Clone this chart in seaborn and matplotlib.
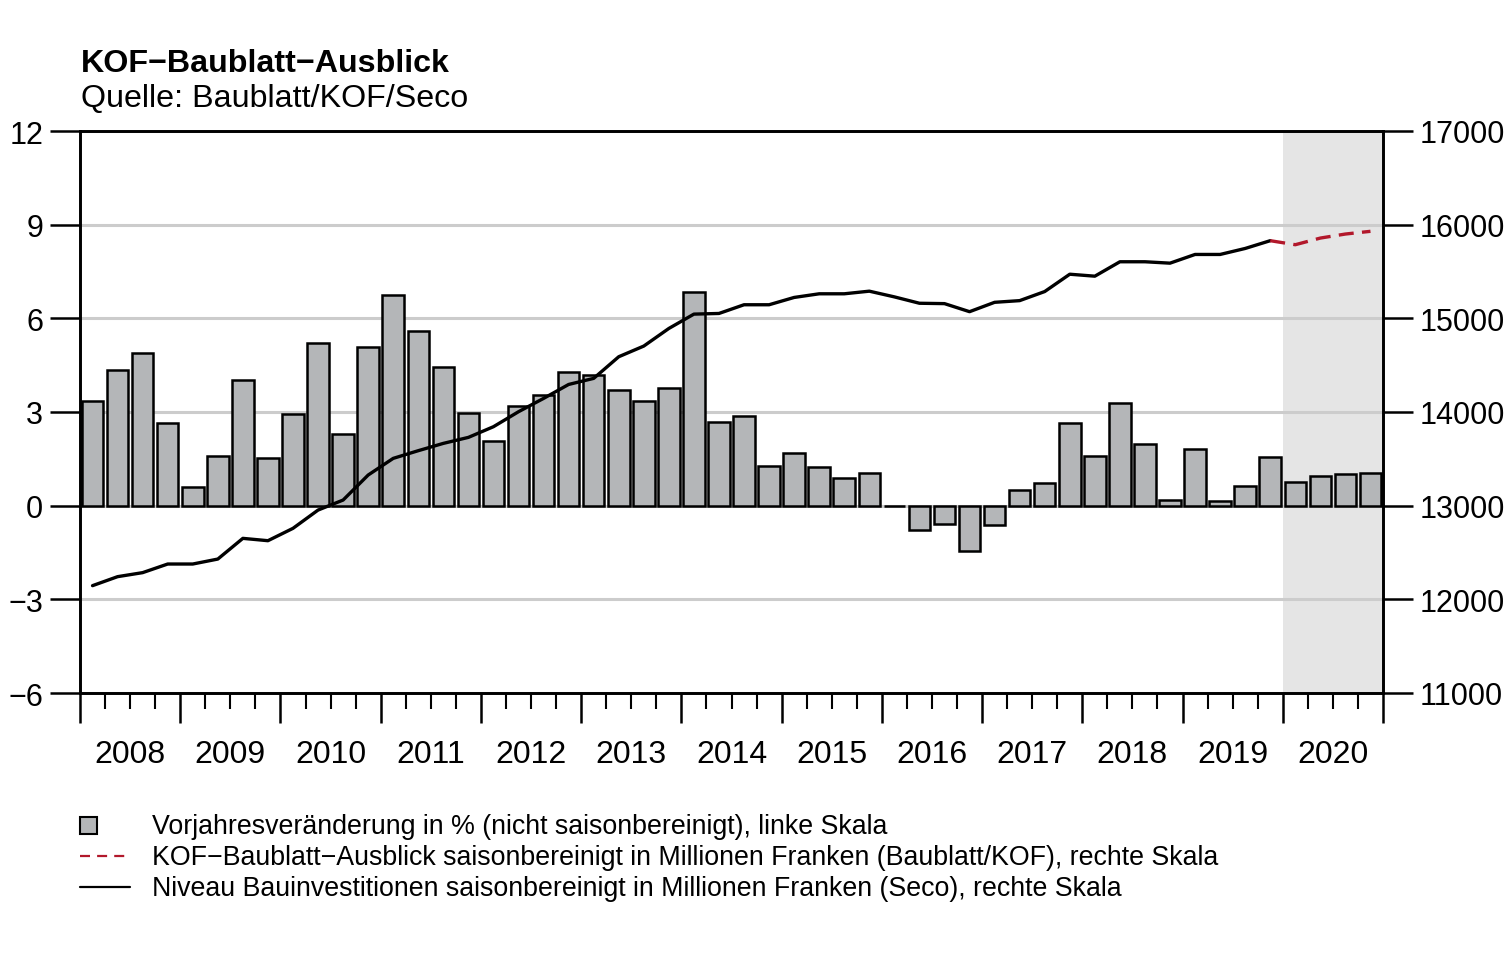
import numpy as np
import pandas as pd
import matplotlib
matplotlib.use("Agg")
import matplotlib.pyplot as plt
from matplotlib.lines import Line2D
from matplotlib.patches import Rectangle
import seaborn as sns

# Daten (Quartale 2008Q1 - 2020Q4)
jahre = list(range(2008, 2021))
quartale = [f"{j}Q{q}" for j in jahre for q in range(1, 5)]

# Vorjahresveraenderung in % (linke Skala)
vorjahr = [3.36, 4.34, 4.89, 2.65, 0.59, 1.60, 4.03, 1.54,
           2.94, 5.20, 2.30, 5.07, 6.76, 5.58, 4.43, 2.98,
           2.08, 3.18, 3.56, 4.27, 4.17, 3.70, 3.34, 3.76,
           6.84, 2.67, 2.87, 1.26, 1.70, 1.25, 0.88, 1.04,
           0.0, -0.79, -0.58, -1.44, -0.61, 0.51, 0.73, 2.65,
           1.59, 3.29, 1.99, 0.18, 1.83, 0.16, 0.64, 1.56,
           0.75, 0.94, 1.00, 1.05]

# Niveau Bauinvestitionen (Seco), 2008Q1 - 2019Q4, rechte Skala
seco = [12146, 12242, 12285, 12377, 12377, 12430, 12651, 12626,
        12758, 12953, 13060, 13327, 13505, 13587, 13665, 13729,
        13843, 14003, 14145, 14294, 14359, 14590, 14704, 14892,
        15045, 15052, 15145, 15145, 15223, 15262, 15262, 15290,
        15229, 15161, 15157, 15071, 15171, 15189, 15286, 15471,
        15450, 15604, 15604, 15589, 15682, 15682, 15746, 15829]

# KOF-Baublatt-Ausblick, 2019Q4 - 2020Q4, rechte Skala
prognose = [15829, 15786, 15857, 15900, 15929]

bar_farbe = "#b4b6b8"
rot = "#b2182b"

sns.set_style("ticks")
plt.rcParams["font.family"] = ["Liberation Sans", "DejaVu Sans"]
plt.rcParams["text.color"] = "black"
plt.rcParams["xtick.color"] = "black"
plt.rcParams["ytick.color"] = "black"
plt.rcParams["axes.labelcolor"] = "black"

df = pd.DataFrame({"quartal": quartale, "pos": np.arange(len(quartale)), "wert": vorjahr})
df_seco = pd.DataFrame({"pos": np.arange(len(seco)), "wert": seco})
start = len(seco) - 1
df_prog = pd.DataFrame({"pos": np.arange(start, start + len(prognose)), "wert": prognose})

W, H = 1512, 954
fig = plt.figure(figsize=(W / 100, H / 100), dpi=100)
ax = fig.add_axes([80 / W, 1 - 694 / H, (1383 - 80) / W, (694 - 132) / H])

n = len(quartale)
ax.axvspan(start + 0.5, n - 0.5, color="#e5e5e5", zorder=0, lw=0)

sns.barplot(data=df, x="pos", y="wert", color=bar_farbe, edgecolor="black",
            linewidth=1.8, width=0.86, saturation=1, ax=ax, zorder=2)

ax.set_xlim(-0.5, n - 0.5)
ax.set_ylim(-6, 12)
ax.set_yticks(np.arange(-6, 13, 3))
ax.set_yticklabels([str(v).replace("-", "\u2212") for v in range(-6, 13, 3)])
ax.yaxis.grid(True, color="#cccccc", lw=2.2, zorder=1)
ax.set_axisbelow(True)
ax.set_xlabel("")
ax.set_ylabel("")

# x-Achse: Jahresgrenzen lang, Quartalsgrenzen kurz
ax.set_xticks(np.arange(-0.5, n, 4))
ax.set_xticklabels([])
ax.set_xticks(np.arange(-0.5, n, 1), minor=True)
ax.tick_params(axis="x", which="major", length=21.5, width=1.8, color="black")
ax.tick_params(axis="x", which="minor", length=11.5, width=1.5, color="black")
ax.tick_params(axis="y", length=21.5, width=1.8, labelsize=22, pad=5, color="black")
for i, j in enumerate(jahre):
    ax.text(i * 4 + 1.5, -0.108, str(j), transform=ax.get_xaxis_transform(),
            ha="center", va="center", fontsize=23)

ax2 = ax.twinx()
sns.lineplot(data=df_seco, x="pos", y="wert", color="black", lw=2.4, ax=ax2)
sns.lineplot(data=df_prog, x="pos", y="wert", color=rot, lw=2.4, ax=ax2,
             dashes=False, linestyle=(0, (4.5, 2.5)))
ax2.set_ylim(11000, 17000)
ax2.set_yticks(np.arange(11000, 17001, 1000))
ax2.set_ylabel("")
ax2.tick_params(axis="y", length=21.5, width=1.8, labelsize=22, pad=5, color="black")
ax2.set_xlim(-0.5, n - 0.5)

for a in (ax, ax2):
    for s in a.spines.values():
        s.set_visible(True)
        s.set_color("black")
        s.set_linewidth(1.9)

# Titel
fig.text(81 / W, 1 - 64 / H, "KOF\u2212Baublatt\u2212Ausblick", fontsize=23.2,
         fontweight="bold", ha="left", va="center")
fig.text(81 / W, 1 - 99 / H, "Quelle: Baublatt/KOF/Seco", fontsize=23.2,
         ha="left", va="center")

# Legende
leg_texte = ["Vorjahresver\u00e4nderung in % (nicht saisonbereinigt), linke Skala",
             "KOF\u2212Baublatt\u2212Ausblick saisonbereinigt in Millionen Franken (Baublatt/KOF), rechte Skala",
             "Niveau Bauinvestitionen saisonbereinigt in Millionen Franken (Seco), rechte Skala"]
zeilen_y = [827, 858, 889]
fig.add_artist(Rectangle((80 / W, 1 - 835 / H), 17 / W, 17 / H, facecolor=bar_farbe,
                         edgecolor="black", lw=1.5, transform=fig.transFigure))
fig.add_artist(Line2D([80 / W, 130 / W], [1 - 857 / H] * 2, color=rot, lw=1.6,
                      linestyle=(0, (4.5, 3.2)), transform=fig.transFigure))
fig.add_artist(Line2D([80 / W, 130 / W], [1 - 888 / H] * 2, color="black", lw=1.6,
                      transform=fig.transFigure))
for txt, yy in zip(leg_texte, zeilen_y):
    fig.text(152 / W, 1 - yy / H, txt, fontsize=19.3, ha="left", va="center")

fig.savefig("out.png", dpi=100)
